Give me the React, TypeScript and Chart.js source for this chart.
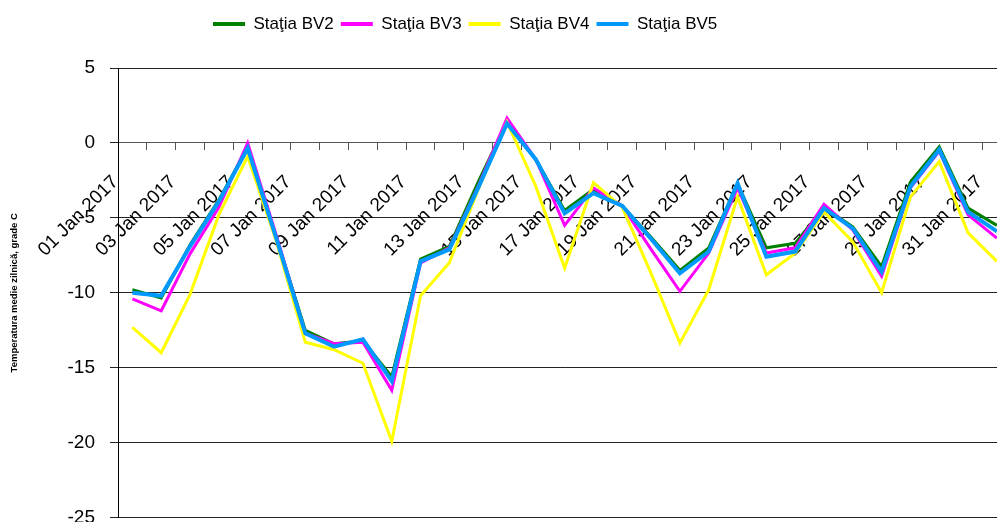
import React, { useEffect, useRef } from 'react';
import { Chart, registerables } from 'chart.js';

Chart.register(...registerables);

const categories = [
  '01 Jan 2017', '02 Jan 2017', '03 Jan 2017', '04 Jan 2017', '05 Jan 2017', '06 Jan 2017',
  '07 Jan 2017', '08 Jan 2017', '09 Jan 2017', '10 Jan 2017', '11 Jan 2017', '12 Jan 2017',
  '13 Jan 2017', '14 Jan 2017', '15 Jan 2017', '16 Jan 2017', '17 Jan 2017', '18 Jan 2017',
  '19 Jan 2017', '20 Jan 2017', '21 Jan 2017', '22 Jan 2017', '23 Jan 2017', '24 Jan 2017',
  '25 Jan 2017', '26 Jan 2017', '27 Jan 2017', '28 Jan 2017', '29 Jan 2017', '30 Jan 2017',
  '31 Jan 2017',
];

const bv2 = [-9.8, -10.35, -6.8, -3.8, -0.3, -6.3, -12.5, -13.4, -13.2, -15.6, -7.75, -6.9, -2.6, 1.4, -1.1, -4.5, -3.1, -4.2, -6.3, -8.5, -7.0, -2.7, -7.0, -6.7, -4.3, -5.6, -8.25, -2.6, -0.25, -4.35, -5.5];
const bv3 = [-10.4, -11.2, -7.4, -4.3, 0.0, -6.2, -12.7, -13.4, -13.3, -16.5, -8.0, -7.0, -2.9, 1.65, -1.1, -5.5, -3.0, -4.2, -7.1, -9.9, -7.35, -3.0, -7.35, -7.0, -4.1, -5.8, -8.9, -3.0, -0.55, -4.8, -6.35];
const bv4 = [-12.3, -14.0, -10.1, -4.8, -0.9, -6.6, -13.3, -13.8, -14.7, -19.9, -10.2, -8.0, -3.1, 1.4, -2.9, -8.35, -2.65, -4.3, -8.7, -13.35, -9.8, -3.6, -8.8, -7.35, -4.6, -6.6, -10.0, -3.6, -1.25, -6.0, -7.9];
const bv5 = [-10.0, -10.2, -6.9, -3.9, -0.35, -6.4, -12.7, -13.6, -13.1, -15.9, -7.9, -7.1, -3.0, 1.3, -1.1, -4.7, -3.35, -4.2, -6.4, -8.7, -7.25, -2.7, -7.6, -7.25, -4.35, -5.7, -8.6, -2.9, -0.45, -4.6, -5.9];

const seriesNames = ['Staţia BV2', 'Staţia BV3', 'Staţia BV4', 'Staţia BV5'];
const seriesColors = ['#008000', '#FF00FF', '#FFFF00', '#0099FF'];
const yTitle = 'Temperatura medie zilnică, grade C';
const yMin = -25;
const yMax = 5;
const yStep = 5;

const FONT = '"Liberation Sans", Arial, sans-serif';

const legendPlacer = {
  id: 'legendPlacer',
  afterLayout(chart: any) {
    const lg = chart.legend;
    if (!lg) return;
    const pad = lg.options.labels.padding;
    const w = lg.right - lg.left;
    const h = lg.bottom - lg.top;
    lg.left = 213 - pad;
    lg.right = lg.left + w;
    lg.top = 24 - 8.5 - pad;
    lg.bottom = lg.top + h;
  },
};

export default function App() {
  const ref = useRef<HTMLCanvasElement | null>(null);

  useEffect(() => {
    if (!ref.current) return;
    const data = [bv2, bv3, bv4, bv5];
    const widths = [3, 3, 3, 4];
    const orders = [4, 3, 2, 1];
    const chart = new Chart(ref.current, {
      type: 'line',
      data: {
        labels: categories,
        datasets: data.map((d, i) => ({
          label: seriesNames[i],
          data: d,
          borderColor: seriesColors[i],
          backgroundColor: seriesColors[i],
          borderWidth: widths[i],
          pointRadius: 0,
          pointHoverRadius: 0,
          tension: 0,
          fill: false,
          order: orders[i],
        })),
      },
      options: {
        animation: false,
        responsive: false,
        maintainAspectRatio: false,
        layout: { padding: { top: 34, left: 0, right: 0, bottom: 0 } },
        plugins: {
          tooltip: { enabled: false },
          legend: {
            display: true,
            position: 'top',
            align: 'start',
            labels: {
              boxWidth: 32,
              boxHeight: 4,
              padding: 7,
              color: '#000',
              font: { family: FONT, size: 17 },
              sort: (a: any, b: any) => a.datasetIndex - b.datasetIndex,
              generateLabels: (c: any) =>
                Chart.defaults.plugins.legend.labels.generateLabels(c).map((it: any) => ({ ...it, lineWidth: 0 })),
            },
          },
        },
        scales: {
          x: {
            type: 'category',
            position: { y: 0 } as any,
            offset: true,
            grid: {
              display: true,
              offset: true,
              drawOnChartArea: false,
              drawTicks: true,
              tickLength: 7,
              color: '#555',
              lineWidth: 1,
            },
            border: { display: true, color: '#555', width: 1 },
            ticks: {
              autoSkip: false,
              minRotation: 45,
              maxRotation: 45,
              padding: 21,
              labelOffset: -17,
              color: '#000',
              font: { family: FONT, size: 19 },
              callback: (_v: any, idx: number) => (idx % 2 === 0 ? categories[idx] : ''),
            },
          },
          y: {
            min: yMin,
            max: yMax,
            afterFit: (s: any) => {
              s.width = 118;
            },
            grid: {
              color: '#222',
              lineWidth: 1,
              drawTicks: true,
              tickLength: 8,
            },
            border: { display: true, color: '#000', width: 1 },
            ticks: {
              stepSize: yStep,
              padding: 15,
              color: '#000',
              font: { family: FONT, size: 19 },
            },
            title: {
              display: true,
              text: yTitle,
              color: '#000',
              font: { family: FONT, size: 9.5, weight: 'bold' },
              padding: { top: 9, bottom: 0 },
            },
          },
        },
      },
      plugins: [legendPlacer],
    });
    return () => chart.destroy();
  }, []);

  return (
    <div style={{ position: 'fixed', left: 0, top: 0, width: 997, height: 522, overflow: 'hidden', background: '#fff' }}>
      <canvas ref={ref} width={1034} height={544} style={{ display: 'block', width: 1034, height: 544 }} />
    </div>
  );
}
